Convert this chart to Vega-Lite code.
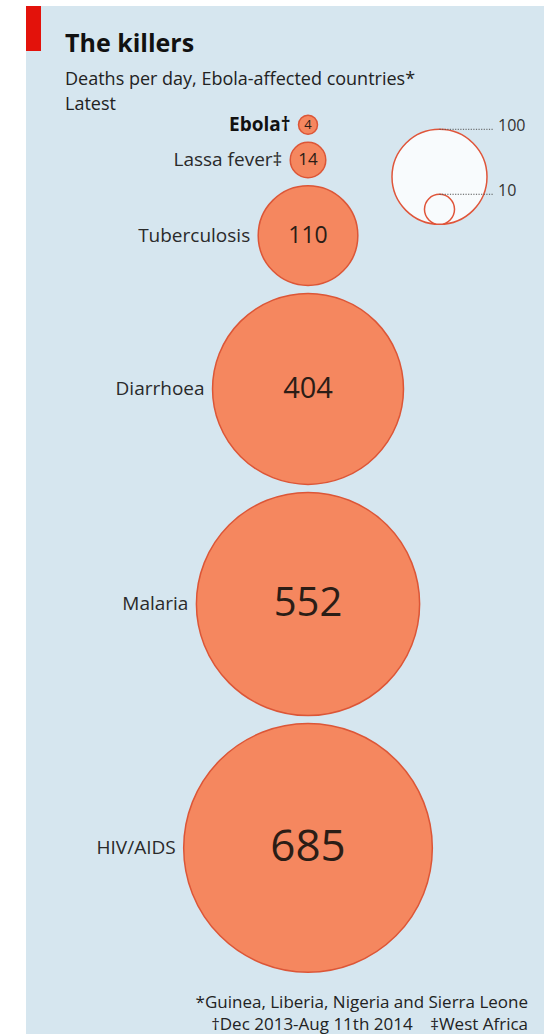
{
  "$schema": "https://vega.github.io/schema/vega-lite/v6.json",
  "width": 554,
  "height": 1034,
  "autosize": {"type": "fit", "contains": "padding"},
  "padding": {"left": 26, "top": 6, "right": 10, "bottom": 0},
  "background": "#ffffff",
  "config": {"view": {"stroke": null, "fill": "#d6e6ef"}},
  "title": {
    "text": "The killers",
    "subtitle": ["Deaths per day, Ebola-affected countries*", "Latest"],
    "anchor": "start",
    "frame": "group",
    "orient": "top",
    "offset": -107.8,
    "dx": 39,
    "font": "Open Sans",
    "fontSize": 25,
    "fontWeight": "bold",
    "color": "#111111",
    "subtitleFont": "Open Sans",
    "subtitleFontSize": 18,
    "subtitleColor": "#222222",
    "subtitleLineHeight": 25,
    "subtitlePadding": 13.55
  },
  "datasets": {
    "killers": [
      {"disease": "Ebola", "label": "Ebola†", "deaths": 4},
      {"disease": "Lassa fever", "label": "Lassa fever‡", "deaths": 14},
      {"disease": "Tuberculosis", "label": "Tuberculosis", "deaths": 110},
      {"disease": "Diarrhoea", "label": "Diarrhoea", "deaths": 404},
      {"disease": "Malaria", "label": "Malaria", "deaths": 552},
      {"disease": "HIV/AIDS", "label": "HIV/AIDS", "deaths": 685}
    ],
    "key": [
      {"v": 100, "label": "100"},
      {"v": 10, "label": "10"}
    ],
    "one": [{"note": "footnote"}]
  },
  "resolve": {"scale": {"size": "independent"}},
  "layer": [
    {
      "data": {"name": "one"},
      "mark": {"type": "rect", "fill": "#e3120b"},
      "encoding": {
        "x": {"datum": -59.37, "type": "quantitative", "scale": {"domain": [-59.37, 49.68], "nice": false, "zero": false}, "axis": null},
        "x2": {"datum": -56.21},
        "y": {"datum": -23.0, "type": "quantitative", "scale": {"domain": [-23.0, 193.42], "reverse": true, "nice": false, "zero": false}, "axis": null},
        "y2": {"datum": -13.53}
      }
    },
    {
      "data": {"name": "killers"},
      "transform": [
        {"calculate": "sqrt(datum.deaths)", "as": "r"},
        {"calculate": "2*sqrt(datum.deaths) + 1.684", "as": "step"},
        {"window": [{"op": "sum", "field": "step", "as": "cum"}], "sort": [{"field": "deaths"}], "frame": [null, 0]},
        {"calculate": "datum.cum - datum.r - 1.684", "as": "cy"}
      ],
      "mark": {"type": "circle", "fill": "#f5875f", "stroke": "#dc5637", "strokeWidth": 1.5, "opacity": 1},
      "encoding": {
        "x": {"datum": 0, "type": "quantitative", "scale": {"domain": [-59.37, 49.68], "nice": false, "zero": false}, "axis": null},
        "y": {"field": "cy", "type": "quantitative", "scale": {"domain": [-23.0, 193.42], "reverse": true, "nice": false, "zero": false}, "axis": null},
        "size": {"field": "deaths", "type": "quantitative", "scale": {"type": "linear", "domain": [0, 1000], "range": [0, 90250], "zero": true}, "legend": null}
      }
    },
    {
      "data": {"name": "killers"},
      "transform": [
        {"calculate": "sqrt(datum.deaths)", "as": "r"},
        {"calculate": "2*sqrt(datum.deaths) + 1.684", "as": "step"},
        {"window": [{"op": "sum", "field": "step", "as": "cum"}], "sort": [{"field": "deaths"}], "frame": [null, 0]},
        {"calculate": "datum.cum - datum.r - 1.684", "as": "cy"}
      ],
      "mark": {"type": "text", "align": "center", "baseline": "middle", "font": "Open Sans", "color": "#2b1d16"},
      "encoding": {
        "x": {"datum": 0, "type": "quantitative", "scale": {"domain": [-59.37, 49.68], "nice": false, "zero": false}, "axis": null},
        "y": {"field": "cy", "type": "quantitative", "scale": {"domain": [-23.0, 193.42], "reverse": true, "nice": false, "zero": false}, "axis": null},
        "text": {"field": "deaths", "type": "quantitative", "format": "d"},
        "size": {"field": "deaths", "type": "quantitative", "scale": {"type": "linear", "domain": [4, 14, 110, 404, 552, 685], "range": [13, 17, 23, 29, 40, 44], "zero": false}, "legend": null}
      }
    },
    {
      "data": {"name": "killers"},
      "transform": [
        {"calculate": "sqrt(datum.deaths)", "as": "r"},
        {"calculate": "2*sqrt(datum.deaths) + 1.684", "as": "step"},
        {"window": [{"op": "sum", "field": "step", "as": "cum"}], "sort": [{"field": "deaths"}], "frame": [null, 0]},
        {"calculate": "datum.cum - datum.r - 1.684", "as": "cy"},
        {"calculate": "-datum.r - 1.684", "as": "lx"},
        {"filter": "datum.disease !== 'Ebola'"}
      ],
      "mark": {"type": "text", "align": "right", "baseline": "middle", "font": "Open Sans", "fontSize": 19, "color": "#2a2a2a"},
      "encoding": {
        "x": {"field": "lx", "type": "quantitative", "scale": {"domain": [-59.37, 49.68], "nice": false, "zero": false}, "axis": null},
        "y": {"field": "cy", "type": "quantitative", "scale": {"domain": [-23.0, 193.42], "reverse": true, "nice": false, "zero": false}, "axis": null},
        "text": {"field": "label", "type": "nominal"}
      }
    },
    {
      "data": {"name": "killers"},
      "transform": [
        {"calculate": "sqrt(datum.deaths)", "as": "r"},
        {"calculate": "2*sqrt(datum.deaths) + 1.684", "as": "step"},
        {"window": [{"op": "sum", "field": "step", "as": "cum"}], "sort": [{"field": "deaths"}], "frame": [null, 0]},
        {"calculate": "datum.cum - datum.r - 1.684", "as": "cy"},
        {"calculate": "-datum.r - 1.684", "as": "lx"},
        {"filter": "datum.disease === 'Ebola'"}
      ],
      "mark": {"type": "text", "align": "right", "baseline": "middle", "font": "Open Sans", "fontSize": 19, "fontWeight": "bold", "color": "#111111"},
      "encoding": {
        "x": {"field": "lx", "type": "quantitative", "scale": {"domain": [-59.37, 49.68], "nice": false, "zero": false}, "axis": null},
        "y": {"field": "cy", "type": "quantitative", "scale": {"domain": [-23.0, 193.42], "reverse": true, "nice": false, "zero": false}, "axis": null},
        "text": {"field": "label", "type": "nominal"}
      }
    },
    {
      "data": {"name": "key"},
      "transform": [
        {"calculate": "22.96 - sqrt(datum.v)", "as": "cy"}
      ],
      "mark": {"type": "circle", "fill": "#f8fbfd", "stroke": "#e0553a", "strokeWidth": 1.5, "opacity": 1},
      "encoding": {
        "x": {"datum": 27.68, "type": "quantitative", "scale": {"domain": [-59.37, 49.68], "nice": false, "zero": false}, "axis": null},
        "y": {"field": "cy", "type": "quantitative", "scale": {"domain": [-23.0, 193.42], "reverse": true, "nice": false, "zero": false}, "axis": null},
        "size": {"field": "v", "type": "quantitative", "scale": {"type": "linear", "domain": [0, 1000], "range": [0, 90250], "zero": true}, "legend": null}
      }
    },
    {
      "data": {"name": "key"},
      "transform": [
        {"calculate": "22.96 - 2*sqrt(datum.v)", "as": "top"}
      ],
      "mark": {"type": "rule", "stroke": "#555555", "strokeWidth": 1, "strokeDash": [1.2, 1.4]},
      "encoding": {
        "x": {"datum": 27.68, "type": "quantitative", "scale": {"domain": [-59.37, 49.68], "nice": false, "zero": false}, "axis": null},
        "x2": {"datum": 38.95},
        "y": {"field": "top", "type": "quantitative", "scale": {"domain": [-23.0, 193.42], "reverse": true, "nice": false, "zero": false}, "axis": null}
      }
    },
    {
      "data": {"name": "key"},
      "transform": [
        {"calculate": "22.96 - 2*sqrt(datum.v)", "as": "top"}
      ],
      "mark": {"type": "text", "align": "left", "baseline": "alphabetic", "dy": 2, "font": "Open Sans", "fontSize": 16, "color": "#333333"},
      "encoding": {
        "x": {"datum": 40.0, "type": "quantitative", "scale": {"domain": [-59.37, 49.68], "nice": false, "zero": false}, "axis": null},
        "y": {"field": "top", "type": "quantitative", "scale": {"domain": [-23.0, 193.42], "reverse": true, "nice": false, "zero": false}, "axis": null},
        "text": {"field": "label", "type": "nominal"}
      }
    },
    {
      "data": {"name": "one"},
      "mark": {"type": "text", "align": "right", "baseline": "alphabetic", "font": "Open Sans", "fontSize": 17, "lineHeight": 22, "color": "#222222"},
      "encoding": {
        "x": {"datum": 46.32, "type": "quantitative", "scale": {"domain": [-59.37, 49.68], "nice": false, "zero": false}, "axis": null},
        "y": {"datum": 187.95, "type": "quantitative", "scale": {"domain": [-23.0, 193.42], "reverse": true, "nice": false, "zero": false}, "axis": null},
        "text": {"value": ["*Guinea, Liberia, Nigeria and Sierra Leone", "†Dec 2013-Aug 11th 2014\u00a0\u00a0\u00a0\u00a0‡West Africa"]}
      }
    }
  ]
}
